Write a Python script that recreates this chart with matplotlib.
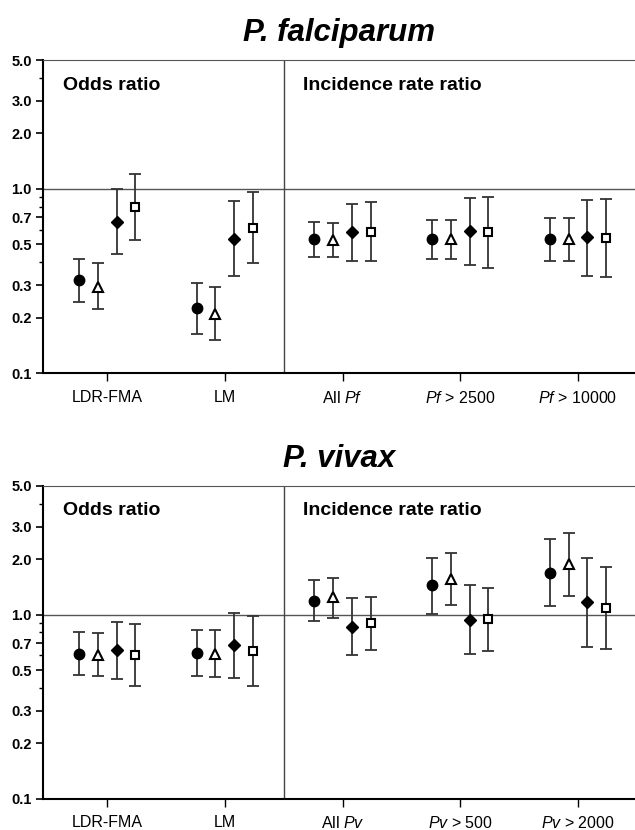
import matplotlib
matplotlib.use('Agg')
from matplotlib import pyplot as plt
from matplotlib.ticker import FixedLocator, NullFormatter
import numpy as np

plt.rcParams['font.family'] = ['Liberation Sans', 'DejaVu Sans']
plt.rcParams['mathtext.fontset'] = 'custom'
plt.rcParams['mathtext.rm'] = 'Liberation Sans'
plt.rcParams['mathtext.it'] = 'Liberation Sans:italic'

# groups: 2 odds-ratio groups, then 3 incidence-rate-ratio groups
pf_labels = ['LDR-FMA', 'LM', 'All $\\mathit{Pf}$', '$\\mathit{Pf}$ > 2500', '$\\mathit{Pf}$ > 10000']
pv_labels = ['LDR-FMA', 'LM', 'All $\\mathit{Pv}$', '$\\mathit{Pv}$ > 500', '$\\mathit{Pv}$ > 2000']

# each series: estimate, lower, upper per group (circle, triangle, diamond, square)
pf_circle = [0.32, 0.224, 0.533, 0.533, 0.533]
pf_circle_lo = [0.244, 0.163, 0.427, 0.415, 0.403]
pf_circle_hi = [0.417, 0.308, 0.664, 0.679, 0.698]
pf_tri = [0.294, 0.208, 0.528, 0.533, 0.533]
pf_tri_lo = [0.222, 0.152, 0.427, 0.415, 0.403]
pf_tri_hi = [0.396, 0.292, 0.656, 0.679, 0.698]
pf_dia = [0.664, 0.537, 0.586, 0.591, 0.544]
pf_dia_lo = [0.44, 0.338, 0.408, 0.388, 0.338]
pf_dia_hi = [1.0, 0.86, 0.829, 0.886, 0.871]
pf_sq = [0.795, 0.616, 0.58, 0.579, 0.54]
pf_sq_lo = [0.526, 0.396, 0.408, 0.372, 0.331]
pf_sq_hi = [1.20, 0.96, 0.843, 0.90, 0.88]

pv_circle = [0.614, 0.618, 1.19, 1.44, 1.68]
pv_circle_lo = [0.472, 0.462, 0.92, 1.01, 1.11]
pv_circle_hi = [0.804, 0.825, 1.55, 2.02, 2.57]
pv_tri = [0.606, 0.609, 1.24, 1.56, 1.88]
pv_tri_lo = [0.466, 0.458, 0.963, 1.13, 1.27]
pv_tri_hi = [0.798, 0.822, 1.59, 2.15, 2.79]
pv_dia = [0.640, 0.681, 0.857, 0.94, 1.17]
pv_dia_lo = [0.445, 0.453, 0.604, 0.614, 0.67]
pv_dia_hi = [0.911, 1.02, 1.23, 1.44, 2.03]
pv_sq = [0.604, 0.632, 0.897, 0.943, 1.09]
pv_sq_lo = [0.411, 0.408, 0.642, 0.637, 0.65]
pv_sq_hi = [0.889, 0.988, 1.24, 1.40, 1.81]

major = [0.1, 0.2, 0.3, 0.5, 0.7, 1.0, 2.0, 3.0, 5.0]
minor = [0.4, 0.6, 0.8, 0.9, 4.0]


def draw_panel(ax, title, labels, series):
    x = np.arange(len(labels))
    offsets = [-0.24, -0.08, 0.08, 0.24]
    styles = [
        dict(marker='o', mfc='black', mec='black', ms=7.5),
        dict(marker='^', mfc='white', mec='black', ms=7, mew=1.5),
        dict(marker='D', mfc='black', mec='black', ms=6),
        dict(marker='s', mfc='white', mec='black', ms=6, mew=1.5),
    ]
    for (val, lo, hi), off, st in zip(series, offsets, styles):
        val = np.array(val)
        err = [val - np.array(lo), np.array(hi) - val]
        ax.errorbar(x + off, val, yerr=err, fmt='none', ecolor='#333333',
                    elinewidth=1.3, capsize=4.5, capthick=1.3, zorder=2)
        ax.plot(x + off, val, linestyle='none', zorder=3, **st)

    ax.set_yscale('log')
    ax.set_ylim(0.1, 5.0)
    ax.set_xlim(-0.545, 4.485)
    ax.yaxis.set_major_locator(FixedLocator(major))
    ax.yaxis.set_minor_locator(FixedLocator(minor))
    ax.yaxis.set_minor_formatter(NullFormatter())
    ax.set_yticklabels(['%.1f' % v for v in major], fontweight='bold', fontsize=10.5)
    ax.set_xticks(x)
    ax.set_xticklabels(labels, fontsize=11.5)
    ax.tick_params(axis='y', which='major', length=5, width=1.2, pad=3)
    ax.tick_params(axis='y', which='minor', length=3, width=1.0)
    ax.tick_params(axis='x', length=6, width=1.0, pad=6)

    ax.axhline(1.0, color='#555555', lw=1.0, zorder=1)
    ax.axvline(1.5, color='#444444', lw=1.0, zorder=1)
    ax.spines['right'].set_visible(False)
    ax.spines['top'].set_color('#555555')
    ax.spines['left'].set_linewidth(1.5)
    ax.spines['bottom'].set_linewidth(1.5)

    ax.text(0.033, 0.92, 'Odds ratio', transform=ax.transAxes,
            fontsize=14, fontweight='bold', va='center')
    ax.text(0.44, 0.92, 'Incidence rate ratio', transform=ax.transAxes,
            fontsize=14, fontweight='bold', va='center')
    ax.set_title(title, fontsize=22.5, fontweight='bold', style='italic', pad=14, x=0.5)


fig = plt.figure(figsize=(6.35, 8.3), dpi=100)
ax1 = fig.add_axes([0.0677, 0.5506, 0.9323, 0.3771])
ax2 = fig.add_axes([0.0677, 0.0377, 0.9323, 0.3768])

draw_panel(ax1, 'P. falciparum', pf_labels, [
    (pf_circle, pf_circle_lo, pf_circle_hi),
    (pf_tri, pf_tri_lo, pf_tri_hi),
    (pf_dia, pf_dia_lo, pf_dia_hi),
    (pf_sq, pf_sq_lo, pf_sq_hi),
])
draw_panel(ax2, 'P. vivax', pv_labels, [
    (pv_circle, pv_circle_lo, pv_circle_hi),
    (pv_tri, pv_tri_lo, pv_tri_hi),
    (pv_dia, pv_dia_lo, pv_dia_hi),
    (pv_sq, pv_sq_lo, pv_sq_hi),
])

fig.savefig('out.png', dpi=100)
